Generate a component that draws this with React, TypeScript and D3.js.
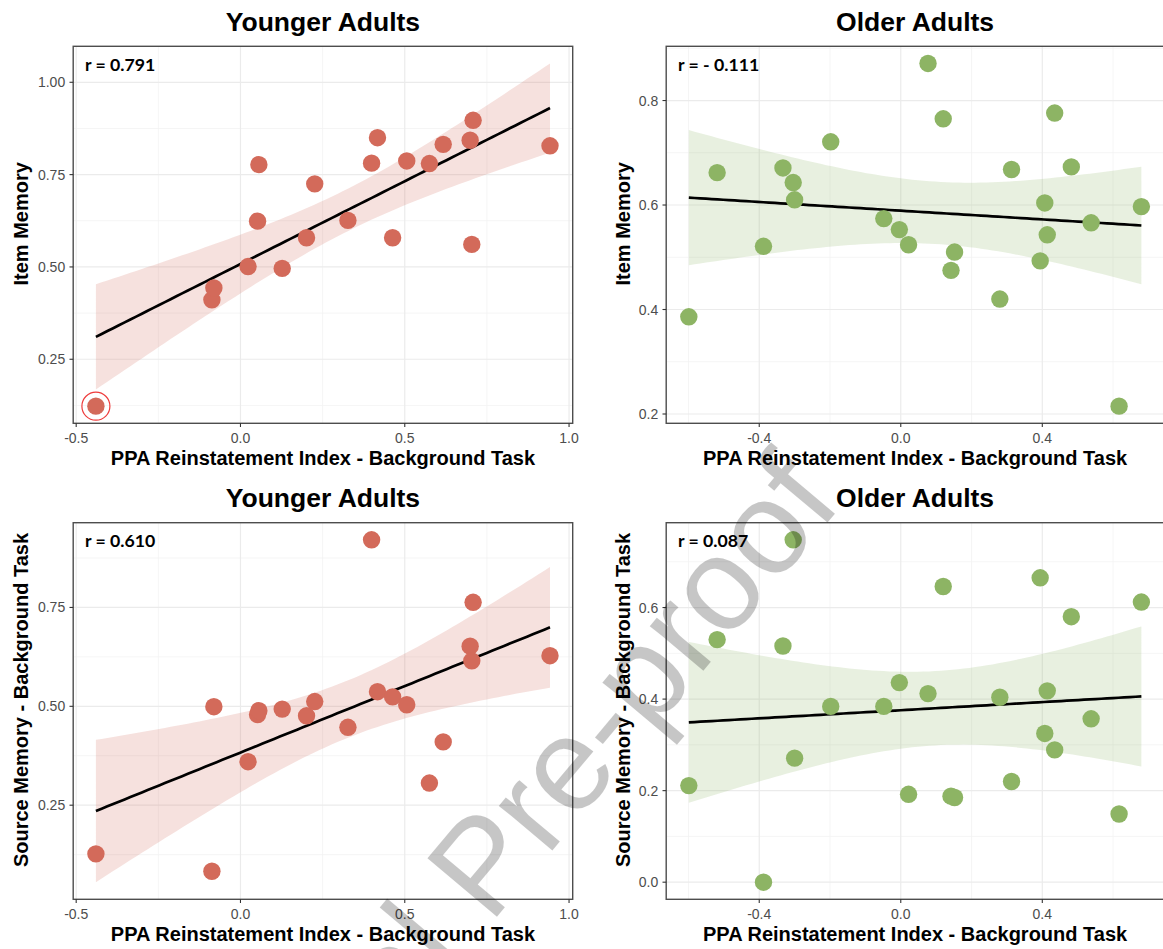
import React from "react";
import * as d3 from "d3";

// PPA reinstatement index (background task), one value per participant
const youngIndex = [-0.44, -0.087, -0.081, 0.023, 0.052, 0.056, 0.127, 0.201, 0.226, 0.327, 0.399, 0.417, 0.463, 0.506, 0.575, 0.617, 0.699, 0.708, 0.704, 0.942];
const youngItem = [0.123, 0.411, 0.443, 0.501, 0.624, 0.777, 0.496, 0.579, 0.725, 0.626, 0.781, 0.85, 0.579, 0.787, 0.78, 0.832, 0.843, 0.897, 0.561, 0.828];
const youngSource = [0.127, 0.083, 0.499, 0.36, 0.479, 0.489, 0.493, 0.476, 0.512, 0.447, 0.921, 0.537, 0.524, 0.504, 0.306, 0.41, 0.652, 0.763, 0.615, 0.628];

const olderIndex = [-0.599, -0.519, -0.388, -0.333, -0.304, -0.3, -0.198, -0.048, -0.004, 0.022, 0.077, 0.12, 0.142, 0.152, 0.28, 0.313, 0.394, 0.407, 0.414, 0.435, 0.482, 0.538, 0.617, 0.68];
const olderItem = [0.386, 0.662, 0.521, 0.671, 0.643, 0.61, 0.721, 0.574, 0.553, 0.524, 0.871, 0.765, 0.475, 0.51, 0.42, 0.668, 0.493, 0.604, 0.543, 0.776, 0.673, 0.566, 0.215, 0.597];
const olderSource = [0.211, 0.53, 0.0, 0.516, 0.748, 0.271, 0.384, 0.384, 0.436, 0.192, 0.412, 0.646, 0.188, 0.185, 0.404, 0.22, 0.665, 0.325, 0.418, 0.289, 0.58, 0.357, 0.149, 0.612];

const youngXTicks = [-0.5, 0, 0.5, 1.0];
const olderXTicks = [-0.4, 0, 0.4];
const youngItemYTicks = [0.25, 0.5, 0.75, 1.0];
const olderItemYTicks = [0.2, 0.4, 0.6, 0.8];
const youngSourceYTicks = [0.25, 0.5, 0.75];
const olderSourceYTicks = [0.0, 0.2, 0.4, 0.6];

const rLabels = ["r = 0.791", "r = - 0.111", "r = 0.610", "r = 0.087"];
const groupTitles = ["Younger Adults", "Older Adults"];
const yTitles = ["Item Memory", "Source Memory - Background Task"];
const xTitle = "PPA Reinstatement Index - Background Task";

// two-sided 95% t quantiles by residual df
const tQuantile: Record<number, number> = { 18: 2.1009, 22: 2.0739 };

const RED = "#D36A5A";
const GREEN = "#8DB464";

const loc = d3.formatLocale({ decimal: ".", thousands: ",", grouping: [3], currency: ["", ""], minus: "-" });

function fitLm(xs: number[], ys: number[]) {
  const n = xs.length;
  const mx = d3.mean(xs) as number;
  const my = d3.mean(ys) as number;
  let sxx = 0, sxy = 0;
  xs.forEach((x, i) => {
    sxx += (x - mx) ** 2;
    sxy += (x - mx) * (ys[i] - my);
  });
  const b = sxy / sxx;
  const a = my - b * mx;
  const sse = d3.sum(xs, (x, i) => (ys[i] - (a + b * x)) ** 2);
  const s = Math.sqrt(sse / (n - 2));
  const t = tQuantile[n - 2] ?? 2.0;
  const [x0, x1] = d3.extent(xs) as [number, number];
  // evaluate like geom_smooth: 80 points across the data range
  const grid = d3.range(80).map((i) => x0 + ((x1 - x0) * i) / 79);
  return grid.map((x) => {
    const fit = a + b * x;
    const se = s * Math.sqrt(1 / n + (x - mx) ** 2 / sxx);
    return { x, fit, lo: fit - t * se, hi: fit + t * se };
  });
}

function minorBreaks(major: number[], domain: [number, number]) {
  const step = major[1] - major[0];
  const ext = [major[0] - step, ...major, major[major.length - 1] + step];
  const out: number[] = [];
  for (let i = 0; i < ext.length - 1; i++) out.push((ext[i] + ext[i + 1]) / 2);
  return out.filter((v) => v >= domain[0] && v <= domain[1]);
}

type Box = { left: number; right: number; top: number; bottom: number };

function Panel(props: {
  xs: number[];
  ys: number[];
  xTicks: number[];
  yTicks: number[];
  yFmt: string;
  color: string;
  title: string;
  yTitle: string;
  rLabel: string;
  box: Box;
  yTitleX: number;
  highlight?: number;
}) {
  const { xs, ys, xTicks, yTicks, yFmt, color, title, yTitle, rLabel, box, yTitleX, highlight } = props;
  const band = fitLm(xs, ys);

  const [xmin, xmax] = d3.extent(xs) as [number, number];
  const xpad = (xmax - xmin) * 0.05;
  const ymin = Math.min(d3.min(ys) as number, d3.min(band, (d) => d.lo) as number);
  const ymax = Math.max(d3.max(ys) as number, d3.max(band, (d) => d.hi) as number);
  const ypad = (ymax - ymin) * 0.05;

  const x = d3.scaleLinear().domain([xmin - xpad, xmax + xpad]).range([box.left, box.right]);
  const y = d3.scaleLinear().domain([ymin - ypad, ymax + ypad]).range([box.bottom, box.top]);

  const xMinor = minorBreaks(xTicks, x.domain() as [number, number]);
  const yMinor = minorBreaks(yTicks, y.domain() as [number, number]);

  const area = d3.area<any>().x((d) => x(d.x)).y0((d) => y(d.lo)).y1((d) => y(d.hi));
  const line = d3.line<any>().x((d) => x(d.x)).y((d) => y(d.fit));

  const fx = loc.format(".1f");
  const fy = loc.format(yFmt);
  const cx = (box.left + box.right) / 2;
  const cy = (box.top + box.bottom) / 2;

  return (
    <g>
      <text x={cx} y={box.top - 15.6} textAnchor="middle" fontFamily="Liberation Sans, Arial, sans-serif" fontWeight="bold" fontSize={26.5} fill="#000">
        {title}
      </text>

      {xMinor.map((v) => (
        <line key={"xm" + v} x1={x(v)} x2={x(v)} y1={box.top} y2={box.bottom} stroke="#F2F2F2" strokeWidth={0.8} />
      ))}
      {yMinor.map((v) => (
        <line key={"ym" + v} x1={box.left} x2={box.right} y1={y(v)} y2={y(v)} stroke="#F2F2F2" strokeWidth={0.8} />
      ))}
      {xTicks.map((v) => (
        <line key={"xg" + v} x1={x(v)} x2={x(v)} y1={box.top} y2={box.bottom} stroke="#EBEBEB" strokeWidth={1.2} />
      ))}
      {yTicks.map((v) => (
        <line key={"yg" + v} x1={box.left} x2={box.right} y1={y(v)} y2={y(v)} stroke="#EBEBEB" strokeWidth={1.2} />
      ))}

      <path d={area(band) as string} fill={color} fillOpacity={0.2} />
      <path d={line(band) as string} fill="none" stroke="#000" strokeWidth={2.7} />

      {xs.map((v, i) => (
        <circle key={"p" + i} cx={x(v)} cy={y(ys[i])} r={8.7} fill={color} />
      ))}
      {highlight !== undefined && (
        <circle cx={x(xs[highlight])} cy={y(ys[highlight])} r={14} fill="none" stroke="#EE3B3B" strokeWidth={1.2} />
      )}

      <rect x={box.left} y={box.top} width={box.right - box.left} height={box.bottom - box.top} fill="none" stroke="#4D4D4D" strokeWidth={1.4} />

      {xTicks.map((v) => (
        <g key={"xt" + v}>
          <line x1={x(v)} x2={x(v)} y1={box.bottom} y2={box.bottom + 3.7} stroke="#333" strokeWidth={1.1} />
          <text x={x(v)} y={box.bottom + 19.7} textAnchor="middle" fontFamily="Liberation Sans, Arial, sans-serif" fontSize={14} fill="#4D4D4D">
            {fx(v)}
          </text>
        </g>
      ))}
      {yTicks.map((v) => (
        <g key={"yt" + v}>
          <line x1={box.left - 3.7} x2={box.left} y1={y(v)} y2={y(v)} stroke="#333" strokeWidth={1.1} />
          <text x={box.left - 8} y={y(v) + 5} textAnchor="end" fontFamily="Liberation Sans, Arial, sans-serif" fontSize={14} fill="#4D4D4D">
            {fy(v)}
          </text>
        </g>
      ))}

      <text x={cx} y={box.bottom + 42} textAnchor="middle" fontFamily="Liberation Sans, Arial, sans-serif" fontWeight="bold" fontSize={20} fill="#000">
        {xTitle}
      </text>
      <text transform={`translate(${yTitleX},${cy - 11}) rotate(-90)`} textAnchor="middle" fontFamily="Liberation Sans, Arial, sans-serif" fontWeight="bold" fontSize={20} fill="#000">
        {yTitle}
      </text>

      <text x={box.left + 11.8} y={box.top + 24.5} fontFamily="Lato, sans-serif" fontWeight="bold" fontSize={17.7} fill="#000">
        {rLabel}
      </text>
    </g>
  );
}

export default function App() {
  const topRow = { top: 46.3, bottom: 423.3 };
  const botRow = { top: 522.7, bottom: 899.3 };
  const leftCol = { left: 73.2, right: 572.7 };
  const rightCol = { left: 666.2, right: 1164 };

  return (
    <svg width={1163} height={949} style={{ position: "absolute", left: 0, top: 0, background: "#fff" }}>
      <rect width={1163} height={949} fill="#fff" />
      <Panel xs={youngIndex} ys={youngItem} xTicks={youngXTicks} yTicks={youngItemYTicks} yFmt=".2f" color={RED}
        title={groupTitles[0]} yTitle={yTitles[0]} rLabel={rLabels[0]} box={{ ...leftCol, ...topRow }} yTitleX={28} highlight={0} />
      <Panel xs={olderIndex} ys={olderItem} xTicks={olderXTicks} yTicks={olderItemYTicks} yFmt=".1f" color={GREEN}
        title={groupTitles[1]} yTitle={yTitles[0]} rLabel={rLabels[1]} box={{ ...rightCol, ...topRow }} yTitleX={630} />
      <Panel xs={youngIndex} ys={youngSource} xTicks={youngXTicks} yTicks={youngSourceYTicks} yFmt=".2f" color={RED}
        title={groupTitles[0]} yTitle={yTitles[1]} rLabel={rLabels[2]} box={{ ...leftCol, ...botRow }} yTitleX={28} />
      <Panel xs={olderIndex} ys={olderSource} xTicks={olderXTicks} yTicks={olderSourceYTicks} yFmt=".1f" color={GREEN}
        title={groupTitles[1]} yTitle={yTitles[1]} rLabel={rLabels[3]} box={{ ...rightCol, ...botRow }} yTitleX={630} />

      {/* journal watermark */}
      <g transform="translate(490,925) rotate(-50)" fontFamily="Liberation Sans, Arial, sans-serif" fontSize={132} fill="#000" opacity={0.22}>
        <text x={0} y={0}>Pre-proof</text>
        <text x={-37} y={0} textAnchor="end">Journal</text>
      </g>
    </svg>
  );
}
